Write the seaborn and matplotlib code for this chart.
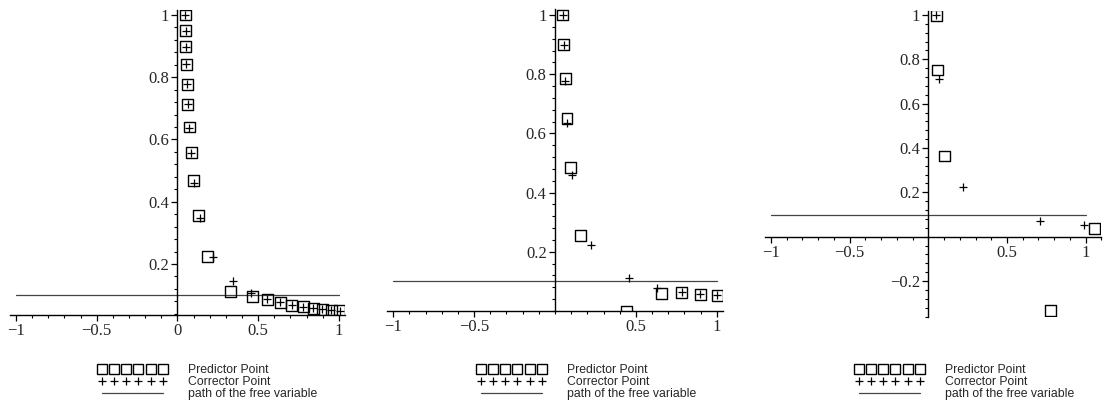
import numpy as np
import pandas as pd
import seaborn as sns
import matplotlib
matplotlib.use("Agg")
import matplotlib.pyplot as plt
from matplotlib.lines import Line2D
from matplotlib.ticker import MultipleLocator, FixedLocator, FuncFormatter

# ---------------- data ----------------
p1_pred_x = [0.048, 0.050, 0.052, 0.056, 0.060, 0.064, 0.073, 0.085, 0.101, 0.130, 0.188,
             0.331, 0.467, 0.557, 0.636, 0.709, 0.778, 0.840, 0.896, 0.952, 1.006]
p1_pred_y = [1.0, 0.95, 0.898, 0.841, 0.778, 0.713, 0.640, 0.559, 0.467, 0.356, 0.223,
             0.112, 0.094, 0.086, 0.076, 0.068, 0.063, 0.058, 0.054, 0.052, 0.049]
p1_corr_x = [0.048, 0.050, 0.052, 0.056, 0.060, 0.064, 0.073, 0.087, 0.104, 0.137, 0.219,
             0.345, 0.458, 0.557, 0.636, 0.709, 0.778, 0.840, 0.896, 0.952, 1.006]
p1_corr_y = [1.0, 0.95, 0.898, 0.841, 0.778, 0.713, 0.636, 0.555, 0.460, 0.348, 0.223,
             0.145, 0.107, 0.088, 0.077, 0.069, 0.063, 0.058, 0.054, 0.052, 0.049]

p2_pred_x = [0.047, 0.054, 0.064, 0.074, 0.095, 0.155, 0.441, 0.660, 0.783, 0.897, 1.004]
p2_pred_y = [1.0, 0.90, 0.786, 0.651, 0.484, 0.256, 0.0, 0.059, 0.061, 0.056, 0.053]
p2_corr_x = [0.047, 0.054, 0.064, 0.074, 0.107, 0.223, 0.456, 0.633, 0.783, 0.897, 1.0]
p2_corr_y = [1.0, 0.90, 0.777, 0.636, 0.461, 0.223, 0.110, 0.078, 0.063, 0.058, 0.053]

p3_pred_x = [0.049, 0.060, 0.102, 0.778, 1.055]
p3_pred_y = [1.0, 0.752, 0.364, -0.334, 0.036]
p3_corr_x = [0.049, 0.066, 0.219, 0.708, 0.991]
p3_corr_y = [1.0, 0.71, 0.226, 0.072, 0.051]

path_x = [-1.0, 1.0]
path_y = [0.1, 0.1]

legend_labels = ["Predictor Point", "Corrector Point", "path of the free variable"]

panels = [
    dict(px=p1_pred_x, py=p1_pred_y, cx=p1_corr_x, cy=p1_corr_y,
         xticks=[-1, -0.5, 0, 0.5, 1], yticks=[0.2, 0.4, 0.6, 0.8, 1]),
    dict(px=p2_pred_x, py=p2_pred_y, cx=p2_corr_x, cy=p2_corr_y,
         xticks=[-1, -0.5, 0.5, 1], yticks=[0.2, 0.4, 0.6, 0.8, 1]),
    dict(px=p3_pred_x, py=p3_pred_y, cx=p3_corr_x, cy=p3_corr_y,
         xticks=[-1, -0.5, 0.5, 1], yticks=[-0.2, 0.2, 0.4, 0.6, 0.8, 1]),
]

# ---------------- layout ----------------
sns.set_style("white")
plt.rcParams["font.family"] = ["Liberation Serif", "DejaVu Serif"]

W, H = 1106, 405
fig = plt.figure(figsize=(W / 100, H / 100), dpi=100)

# (left px, right px, bottom px, top px), xlim, ylim, x-axis position
layouts = [
    ((9.5, 345.4, 315.0, 10.0), (-1.04, 1.04), (0.036, 1.016), None),
    ((386.8, 723.2, 311.0, 9.1), (-1.04, 1.04), (0.0, 1.02), 0.0),
    ((764.7, 1101.4, 316.5, 10.6), (-1.04, 1.10), (-0.36, 1.02), 0.0),
]
legend_x = [98.5, 477.5, 855.5]

fmt = FuncFormatter(lambda v, pos: ("%g" % v).replace("-", "\u2212"))

for i, (pan, (box, xl, yl, xpos)) in enumerate(zip(panels, layouts)):
    l, r, b, t = box
    ax = fig.add_axes([l / W, (H - b) / H, (r - l) / W, (b - t) / H])
    ax.set_facecolor("none")
    ax.set_xlim(*xl)
    ax.set_ylim(*yl)

    sns.lineplot(x=path_x, y=path_y, ax=ax, color="#444444", linewidth=0.9)
    sns.scatterplot(x=pan["px"], y=pan["py"], ax=ax, marker="s", s=62,
                    facecolors="none", edgecolors="black", linewidth=1.0, zorder=3)
    sns.scatterplot(x=pan["cx"], y=pan["cy"], ax=ax, marker="+", s=30,
                    color="black", linewidth=0.9, zorder=4)

    for side in ("top", "right"):
        ax.spines[side].set_visible(False)
    ax.spines["left"].set_position(("data", 0))
    if xpos is not None:
        ax.spines["bottom"].set_position(("data", xpos))
    for side in ("left", "bottom"):
        ax.spines[side].set_color("black")
        ax.spines[side].set_linewidth(1.0)

    ax.xaxis.set_major_locator(FixedLocator(pan["xticks"]))
    ax.yaxis.set_major_locator(FixedLocator(pan["yticks"]))
    ax.xaxis.set_minor_locator(MultipleLocator(0.1))
    ax.yaxis.set_minor_locator(MultipleLocator(0.04))
    ax.xaxis.set_major_formatter(fmt)
    ax.yaxis.set_major_formatter(fmt)
    ax.tick_params(which="major", direction="out", length=4, width=0.9,
                   color="black", labelsize=12, pad=2, bottom=True, left=True)
    ax.tick_params(which="minor", direction="out", length=2.5, width=0.8,
                   color="black", bottom=True, left=True)
    ax.set_xlabel("")
    ax.set_ylabel("")
    if ax.get_legend() is not None:
        ax.get_legend().remove()

    handles = [
        Line2D([], [], linestyle="none", marker="s", markersize=7.8,
               markerfacecolor="none", markeredgecolor="black", markeredgewidth=1.0),
        Line2D([], [], linestyle="none", marker="+", markersize=5.5,
               color="black", markeredgewidth=0.9),
        Line2D([], [], color="#444444", linewidth=0.9),
    ]
    fig.legend(handles, legend_labels, loc="upper left",
               bbox_to_anchor=(legend_x[i] / W, 1 - 364 / H),
               numpoints=6, handlelength=5.55, handletextpad=1.75,
               handleheight=0.5, labelspacing=0.0, borderpad=0, borderaxespad=0,
               frameon=False, prop={"family": ["Liberation Sans", "DejaVu Sans"], "size": 8.8})

fig.savefig("out.png", dpi=100)
